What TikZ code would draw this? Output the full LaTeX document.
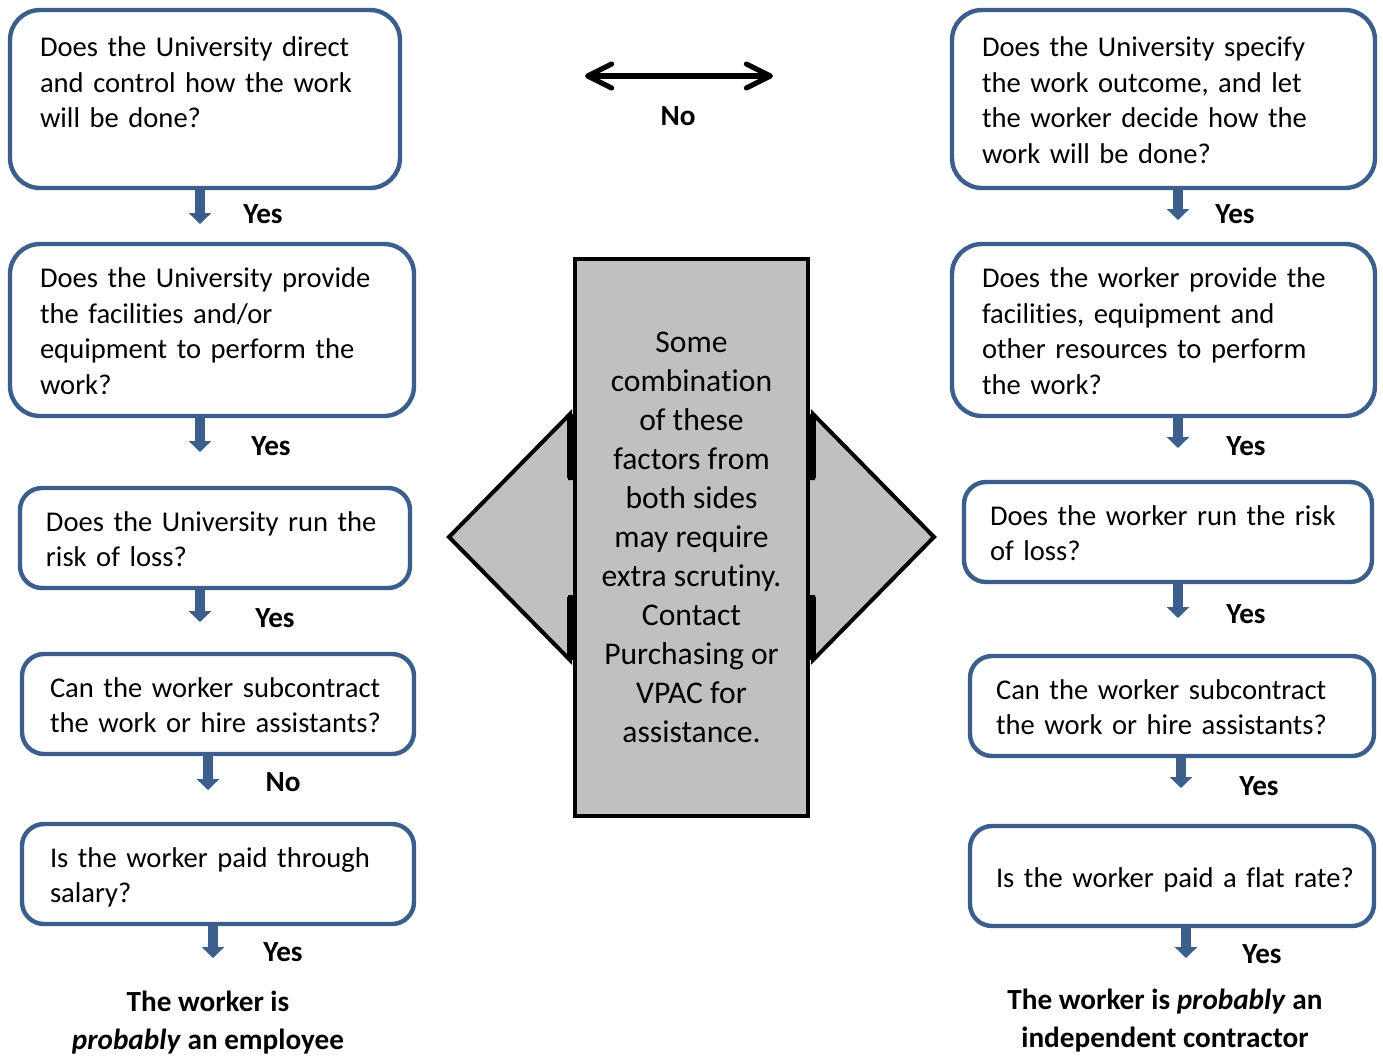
\documentclass[tikz,border=0pt]{standalone}
\usepackage{fontspec}
\setmainfont{Carlito}[Ligatures=NoCommon]
\usepackage{tikz}
\usetikzlibrary{arrows.meta}
\definecolor{flowblue}{RGB}{59,94,140}
\definecolor{scrutgray}{RGB}{192,192,192}
\newcommand{\qlines}[1]{\raisebox{0pt}[\dimexpr\height+4pt\relax]{\begin{tabular}{@{}l@{}}#1\end{tabular}}}

\begin{document}
\begin{tikzpicture}[x=0.5pt, y=-0.5pt,
    qbox/.style={draw=flowblue, line width=2.2pt, rounded corners=15pt, fill=white, align=left,
        inner xsep=15pt, inner ysep=0pt, font=\fontsize{14.3pt}{17.8pt}\selectfont},
    smallbox/.style={qbox, rounded corners=11pt, minimum height=50pt, inner xsep=13pt},
    flowarr/.style={draw=flowblue, line width=5pt, -{Triangle[width=11pt, length=5.5pt]}},
    answer/.style={font=\fontsize{14.6pt}{17.8pt}\selectfont\bfseries},
    verdict/.style={align=center, font=\fontsize{14.6pt}{19pt}\selectfont\bfseries}]
        \useasboundingbox (0,0) rectangle (1383,1057);
        % University side
        \node[qbox, text width=165pt, minimum height=89pt] (uDirect) at (205,99) {\qlines{Does the University direct\\and control how the work\\will be done?\\\mbox{}}};
        \node[qbox, text width=172pt, minimum height=86pt] (uFacil) at (212,330) {\qlines{Does the University provide\\the facilities and/or\\equipment to perform the\\work?}};
        \node[smallbox, text width=169pt] (uRisk) at (215,538) {\qlines{Does the University run the\\risk of loss?}};
        \node[smallbox, inner xsep=14pt, text width=168pt] (uSub) at (218,704) {\qlines{Can the worker subcontract\\the work or hire assistants?}};
        \node[smallbox, inner xsep=14pt, text width=168pt] (uPay) at (218,874) {\qlines{Is the worker paid through\\salary?}};
        \node[verdict] (employee) at (208,1023) {The worker is\\\textit{probably} an employee};

        \coordinate (uT1) at (200,224);
        \coordinate (uT2) at (200,452);
        \coordinate (uT3) at (200,622);
        \coordinate (uT4) at (208,790);
        \coordinate (uT5) at (213,958);
        \draw[flowarr] (uDirect.south -| uT1) -- (uT1);
        \draw[flowarr] (uFacil.south -| uT2) -- (uT2);
        \draw[flowarr] (uRisk.south -| uT3) -- (uT3);
        \draw[flowarr] (uSub.south -| uT4) -- (uT4);
        \draw[flowarr] (uPay.south -| uT5) -- (uT5);
        \node[answer] (uA1) at (263,214) {Yes};
        \node[answer] (uA2) at (271,446) {Yes};
        \node[answer] (uA3) at (275,618) {Yes};
        \node[answer] (uA4) at (283,782) {No};
        \node[answer] (uA5) at (283,952) {Yes};

        % worker side
        \node[qbox, text width=181.5pt, minimum height=89pt] (wOutcome) at (1163.5,99) {\qlines{Does the University specify\\the work outcome, and let\\the worker decide how the\\work will be done?}};
        \node[qbox, text width=181.5pt, minimum height=86pt] (wFacil) at (1163.5,330) {\qlines{Does the worker provide the\\facilities, equipment and\\other resources to perform\\the work?}};
        \node[smallbox, text width=178pt] (wRisk) at (1168,532) {\qlines{Does the worker run the risk\\of loss?}};
        \node[smallbox, text width=176pt] (wSub) at (1172,706) {\qlines{Can the worker subcontract\\the work or hire assistants?}};
        \node[smallbox, text width=176pt] (wPay) at (1172,876) {\qlines{Is the worker paid a flat rate?}};
        \node[verdict] (contractor) at (1165,1021) {The worker is \textit{probably} an\\independent contractor};

        \coordinate (wT1) at (1178,220);
        \coordinate (wT2) at (1178,448);
        \coordinate (wT3) at (1178,618);
        \coordinate (wT4) at (1181,788);
        \coordinate (wT5) at (1186,958);
        \draw[flowarr] (wOutcome.south -| wT1) -- (wT1);
        \draw[flowarr] (wFacil.south -| wT2) -- (wT2);
        \draw[flowarr] (wRisk.south -| wT3) -- (wT3);
        \draw[flowarr] (wSub.south -| wT4) -- (wT4);
        \draw[flowarr] (wPay.south -| wT5) -- (wT5);
        \node[answer] (wA1) at (1235,214) {Yes};
        \node[answer] (wA2) at (1246,446) {Yes};
        \node[answer] (wA3) at (1246,614) {Yes};
        \node[answer] (wA4) at (1259,786) {Yes};
        \node[answer] (wA5) at (1262,954) {Yes};

        % No arrow
        \coordinate (noL) at (585,76);
        \coordinate (noR) at (773,76);
        \draw[line width=2.6pt, {Straight Barb[round, length=12pt, width=12pt]}-{Straight Barb[round, length=12pt, width=12pt]}] (noL) -- (noR);
        \node[answer] (noLabel) at (678,116) {No};

        % middle
        \draw[fill=scrutgray, line width=2pt] (449,537) -- (570,414) -- (570,478) -- (813,478) -- (813,414)
            -- (934,537) -- (813,660) -- (813,597) -- (570,597) -- (570,660) -- cycle;
        \draw[line width=2.6pt] (570,414) -- (570,478) (570,597) -- (570,660)
            (813,414) -- (813,478) (813,597) -- (813,660);
        \node[draw, fill=scrutgray, line width=2pt, minimum width=116.5pt, minimum height=278.5pt, align=center,
            font=\fontsize{15.8pt}{19.5pt}\selectfont] (scrutiny) at (691.5,537.5)
            {Some\\combination\\of these\\factors from\\both sides\\may require\\extra scrutiny.\\Contact\\Purchasing or\\VPAC for\\assistance.};
    \end{tikzpicture}
\end{document}
